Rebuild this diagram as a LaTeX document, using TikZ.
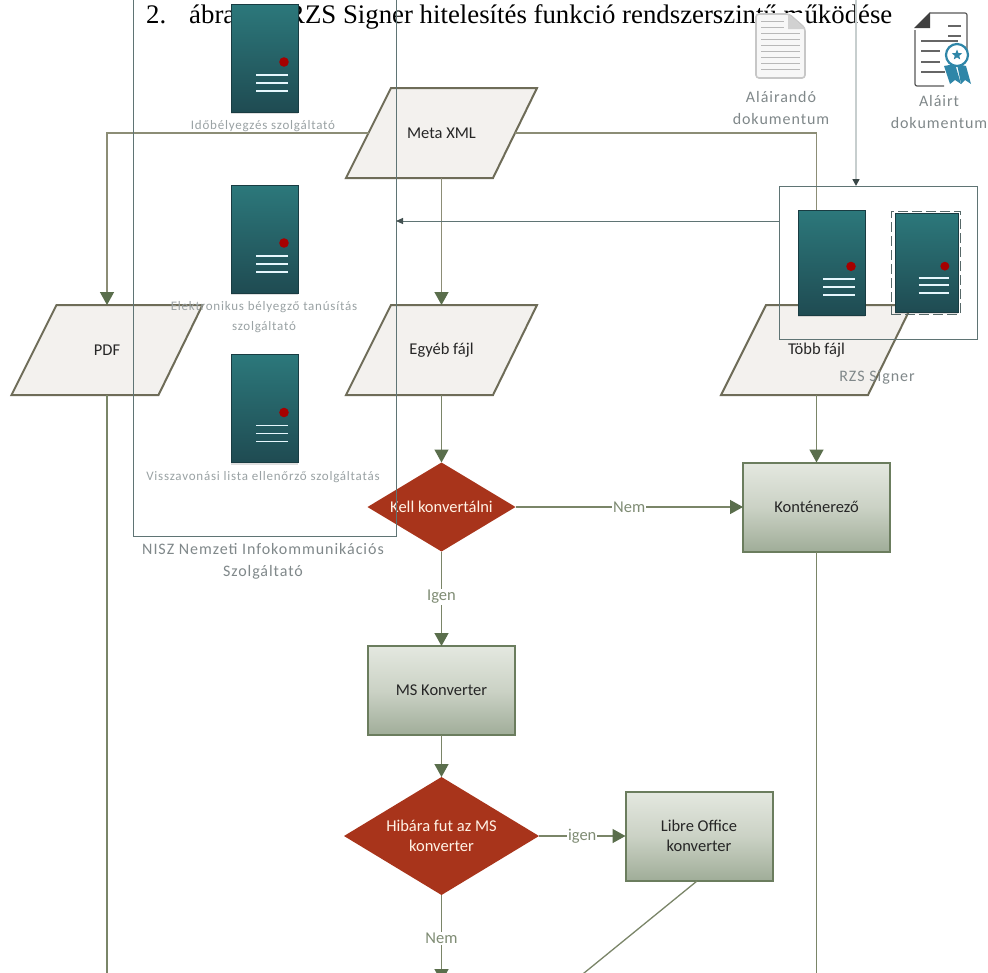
\documentclass[tikz,border=0pt]{standalone}
\usepackage{fontspec}
\setmainfont{Liberation Serif}
\newfontfamily\shapef{Carlito}
\newfontfamily\grayf[LetterSpace=6]{Carlito}
\usetikzlibrary{arrows.meta,shapes.geometric,shadows,calc}
\definecolor{flowline}{HTML}{7A8568}
\definecolor{metaline}{HTML}{8C8D76}
\definecolor{tipgreen}{HTML}{5A6E4C}
\definecolor{boxline}{HTML}{5F7474}
\definecolor{paraline}{HTML}{6E6C58}
\definecolor{parafill}{HTML}{F3F1EE}
\definecolor{diafill}{HTML}{A8341B}
\definecolor{rectline}{HTML}{6B7D5E}
\definecolor{recttop}{HTML}{E4E8E0}
\definecolor{rectmid}{HTML}{CBD2C5}
\definecolor{rectbot}{HTML}{A0AD99}
\definecolor{grayt}{HTML}{80888A}
\definecolor{graysoft}{HTML}{9AA2A4}
\definecolor{labelg}{HTML}{7F8C74}
\definecolor{srvtop}{HTML}{2C787B}
\definecolor{srvbot}{HTML}{1F4B52}
\definecolor{rosette}{HTML}{2F86A8}
\tikzset{
  x=1pt,y=-1pt,
  inoutbody/.style={draw=paraline,line width=2pt,fill=parafill,line join=miter},
  inout/.style={rectangle,minimum width=191pt,minimum height=90pt,inner sep=0pt,outer sep=0pt,
    font=\shapef\fontsize{16.5}{20}\selectfont,text=black!85},
  process/.style={rectangle,minimum width=147pt,minimum height=89pt,inner sep=0pt,outer sep=0pt,draw=rectline,line width=2pt,
    top color=recttop,bottom color=rectbot,middle color=rectmid,
    font=\shapef\fontsize{16.5}{20}\selectfont,text=black!85,align=center},
  decision/.style={diamond,aspect=1.66,inner sep=0pt,outer sep=0pt,fill=diafill,text=white!90!orange,
    font=\shapef\fontsize{16.5}{20}\selectfont,align=center},
  flow/.style={draw=flowline,line width=1.4pt,-{Triangle[length=13pt,width=14pt,color=tipgreen]}},
  flowplain/.style={draw=flowline,line width=1.3pt},
  metaflow/.style={draw=metaline,line width=1.4pt,-{Triangle[length=13pt,width=14pt,color=tipgreen]}},
  boundary/.style={rectangle,draw=boxline,line width=1pt,inner sep=0pt,outer sep=0pt},
  serverbody/.style={rectangle,inner sep=0pt,outer sep=0pt,top color=srvtop,bottom color=srvbot,draw=srvbot!80!black,line width=0.4pt,
    drop shadow={opacity=.25,shadow xshift=0pt,shadow yshift=-2pt}},
  graylabel/.style={text=graysoft,align=center,font=\grayf\fontsize{13}{20}\selectfont},
  graylarge/.style={text=grayt,align=center,font=\grayf\fontsize{16}{22}\selectfont},
  flowlabel/.style={fill=white,inner sep=1pt,text=labelg,font=\shapef\fontsize{16.5}{18}\selectfont},
  titletext/.style={inner sep=0pt,anchor=base west,font=\fontsize{26.8}{30}\selectfont,text=black},
}
\newcommand{\serverat}[5]{%
  \node[serverbody,minimum width=#4 pt,minimum height=#5 pt] (#1) at (#2,#3) {};
  \begin{scope}[shift={(#1.north west)},x=#4/67 pt,y=-#5/108 pt]
    \fill[red!65!black] (53,58) circle (4.8);
    \draw[white!90!cyan,line width=1.9pt] (25,71)--(57,71) (25,79)--(57,79) (25,87)--(57,87);
  \end{scope}}
% parallelogram: body polygon, text node, and side-midpoint coordinates <name>l and <name>r
\newcommand{\inoutat}[4]{%
  \draw[inoutbody] ({#2-50.5},{#3-45}) -- ({#2+95.5},{#3-45}) -- ({#2+51.5},{#3+45}) -- ({#2-95.5},{#3+45}) -- cycle;
  \node[inout] (#1) at (#2,#3) {#4};
  \coordinate (#1l) at ({#2-73},#3);
  \coordinate (#1r) at ({#2+73.5},#3);}
\begin{document}
\begin{tikzpicture}
\clip (0,0) rectangle (988,972);
\fill[white] (0,0) rectangle (988,972);
% title
\node[titletext] (titlenum) at (146,23) {2.};
\node[titletext] (titlefig) at (189,23) {ábra:};
\node[titletext] (titlemain) at (287,23) {RZS Signer hitelesítés funkció rendszerszintű működése};
% shapes of the flow
\inoutat{meta}{441.5}{133}{Meta XML}
\inoutat{pdf}{107}{350}{PDF}
\inoutat{egyeb}{441.5}{350}{Egyéb fájl}
\inoutat{tobb}{816.5}{350}{Több fájl}
\node[process] (kont) at (816.5,507) {Konténerező};
\node[process] (ms) at (441.5,690.5) {MS Konverter};
\node[process] (libre) at (699,836) {Libre Office\\konverter};
\node[decision,minimum width=148pt,minimum height=89pt] (d1) at (441.5,507) {Kell konvertálni};
\node[decision,minimum width=195pt,minimum height=118pt] (d2) at (441.5,836) {Hibára fut az MS\\konverter};
% free ends
\coordinate (pdfend) at (107,985);
\coordinate (kontend) at (816.5,985);
\coordinate (nemend) at (441.5,982);
\coordinate (libreend) at (573,982);
\coordinate (libreout) at (697,881);
\coordinate (topin) at (856,-5);
\coordinate (rzsout) at (779,221);
% connectors
\draw[metaflow] (metal) -| (pdf.north);
\draw[metaflow] (meta.south) -- (egyeb.north);
\draw[metaflow] (metar) -| (tobb.north);
\draw[flowplain] (pdf.south) -- (pdfend);
\draw[flow] (tobb.south) -- (kont.north);
\draw[flowplain] (kont.south) -- (kontend);
\draw[flow] (egyeb.south) -- (d1.north);
\draw[flow] (d1.east) -- node[flowlabel] (lnem) {Nem} (kont.west);
\draw[flow] (d1.south) -- node[flowlabel,pos=.48] (ligen) {Igen} (ms.north);
\draw[flow] (ms.south) -- (d2.north);
\draw[flow] (d2.east) -- node[flowlabel,pos=.5] (ligen2) {igen} (libre.west);
\draw[flow] (d2.south) -- node[flowlabel,pos=.5] (lnem2) {Nem} (nemend);
\draw[flowplain] (libreout) -- (libreend);
% boundaries
\node[boundary,minimum width=263pt,minimum height=540pt] (nisz) at (264.5,266) {};
\node[boundary,minimum width=198pt,minimum height=153pt] (rzs) at (878,262.5) {};
\draw[draw=boxline,line width=1pt,-{Triangle[length=7pt,width=6pt,color=boxline!70!black]}] (rzsout) -- (rzsout -| nisz.east);
\draw[draw=boxline!35!white,line width=1.5pt,-{Triangle[length=7pt,width=7pt,color=boxline!60!black]}] (topin) -- (topin |- rzs.north);
% servers
\serverat{srva}{264.5}{58}{67}{108}
\serverat{srvb}{264.5}{239}{67}{108}
\serverat{srvc}{264.5}{408.5}{67}{108}
\serverat{srvd}{831.5}{262.5}{67}{105}
\serverat{srve}{926.5}{262.5}{63}{99}
\node[rectangle,draw=boxline!90!black,dashed,dash pattern=on 10pt off 4pt,line width=1pt,minimum width=69pt,minimum height=103pt,inner sep=0pt] (srvdash) at (925.5,262.5) {};
% labels
\node[graylabel] (lblsrva) at (263,126) {Időbélyegzés szolgáltató};
\node[graylabel] (lblsrvb) at (264,317) {Elektronikus bélyegző tanúsítás\\szolgáltató};
\node[graylabel] (lblsrvc) at (263,477) {Visszavonási lista ellenőrző szolgáltatás};
\node[graylarge] (lblnisz) at (263,561) {NISZ Nemzeti Infokommunikációs\\Szolgáltató};
\node[graylarge] (lblrzs) at (877,377) {RZS Signer};
% document icon
\begin{scope}
  \path[fill=white] (755,13) rectangle (806,81);
  \draw[draw=black!22,line width=1.6pt,fill=black!3,rounded corners=3pt] (756,14) -- (789,14) -- (805,28) -- (805,78) -- (756,78) -- cycle;
  \fill[black!18] (788,14) -- (788,29) -- (805,29) -- cycle;
  \foreach \yy in {21,27,33,39,45,51,57,63,69}{\draw[black!28,line width=.6pt] (761,\yy) -- ({\yy<30?784:800},\yy);}
\end{scope}
\node[graylarge] (lblsign) at (781,108.5) {Aláirandó\\dokumentum};
% signed document icon
\begin{scope}
  \draw[black!65,line width=1.2pt,rounded corners=2pt] (930,13) -- (967,13) -- (967,50);
  \draw[black!65,line width=1.2pt,rounded corners=2pt] (915,30) -- (915,86) -- (944,86);
  \fill[black!75] (914,28) -- (930,12) -- (930,28) -- cycle;
  \draw[black!60,line width=1.1pt] (948,26)--(961,26) (948,36)--(961,36) (921,41)--(958,41) (921,51)--(940,51) (921,62)--(940,62) (921,72)--(945,72);
  \fill[rosette] (944,66) -- (955,64) -- (961,84) -- (955,80) -- (950,84) -- cycle;
  \fill[rosette] (957,64) -- (966,66) -- (971,84) -- (965,80) -- (961,84) -- cycle;
  \draw[rosette,line width=2.2pt,fill=white] (957,55) circle (11);
  \node[star,star points=5,star point ratio=2.3,fill=rosette,inner sep=0pt,minimum size=11pt] (signstar) at (957,55) {};
\end{scope}
\node[graylarge] (lblsigned) at (939,112.5) {Aláirt\\dokumentum};
\end{tikzpicture}
\end{document}
